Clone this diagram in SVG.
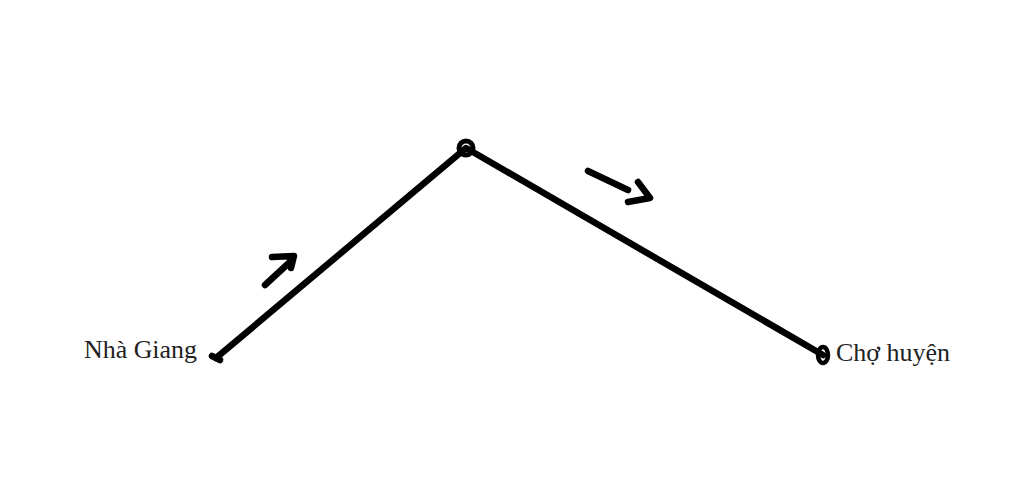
<svg xmlns="http://www.w3.org/2000/svg" width="1024" height="490" viewBox="0 0 1024 490">
<style>
.ln{fill:none;stroke:#000;stroke-width:6.5;stroke-linecap:round;stroke-linejoin:round}
.lbl{font-family:"Liberation Serif",serif;font-size:25px;fill:#222}
</style>
<rect width="1024" height="490" fill="#fff"/>
<g id="connectors">
<path class="ln" d="M216,358 L466,148 L823,355"/>
<path class="ln" d="M265,285 L291,261 M272,257 L294,256 L291,268"/>
<path class="ln" d="M588,171 L628,190 M638,182 L650,198 L628,202"/>
</g>
<g id="node-nhagiang">
<path class="ln" d="M212,356 L220,360"/>
<text class="lbl" x="84" y="358" textLength="113" lengthAdjust="spacingAndGlyphs">Nhà Giang</text>
</g>
<g id="node-top">
<circle cx="466" cy="148" r="7" fill="none" stroke="#000" stroke-width="5"/>
</g>
<g id="node-chohuyen">
<ellipse cx="823" cy="355" rx="5" ry="8" fill="none" stroke="#000" stroke-width="4.5"/>
<text class="lbl" x="836" y="361" textLength="114" lengthAdjust="spacingAndGlyphs">Chợ huyện</text>
</g>
</svg>
